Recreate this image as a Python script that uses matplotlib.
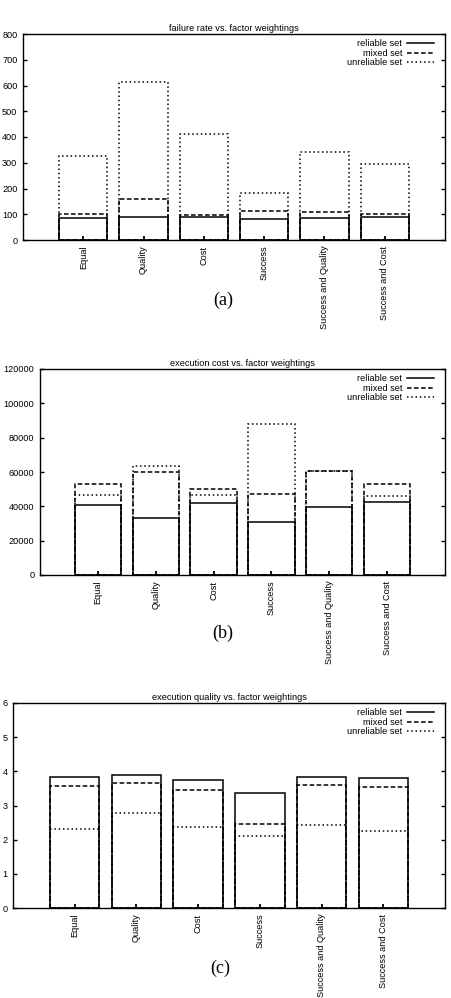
import matplotlib
matplotlib.use("Agg")
import matplotlib.pyplot as plt
from matplotlib.lines import Line2D
import numpy as np

categories = ["Equal", "Quality", "Cost", "Success", "Success and Quality", "Success and Cost"]
series_names = ["reliable set", "mixed set", "unreliable set"]

# (a) failure rate
fail_reliable = [84, 88, 91, 83, 86, 91]
fail_mixed = [102, 160, 97, 112, 109, 100]
fail_unreliable = [327, 615, 412, 184, 341, 296]

# (b) execution cost
cost_reliable = [40600, 33000, 41700, 31000, 39800, 42400]
cost_mixed = [53100, 60000, 50200, 46900, 60400, 53100]
cost_unreliable = [46800, 63700, 46600, 87900, 60600, 46300]

# (c) execution quality
qual_reliable = [3.84, 3.89, 3.76, 3.37, 3.83, 3.80]
qual_mixed = [3.58, 3.65, 3.44, 2.46, 3.59, 3.55]
qual_unreliable = [2.31, 2.78, 2.38, 2.10, 2.44, 2.24]

titles = ["failure rate vs. factor weightings",
          "execution cost vs. factor weightings",
          "execution quality vs. factor weightings"]
yticks_list = [list(range(0, 801, 100)),
               list(range(0, 120001, 20000)),
               list(range(0, 7, 1))]
captions = ["(a)", "(b)", "(c)"]

W, H = 452, 998
fig = plt.figure(figsize=(W / 100, H / 100), dpi=100)

# axes boxes in pixels: left, right, top, bottom
boxes = [(23, 445, 34, 240), (40, 445, 369, 575), (13, 445, 703, 908)]
caption_pos = [(223, 300), (223, 633), (220, 968)]

styles = {"reliable set": "-",
          "mixed set": (0, (3, 1.6)),
          "unreliable set": (0, (1, 1.8))}

data = [
    (fail_reliable, fail_mixed, fail_unreliable),
    (cost_reliable, cost_mixed, cost_unreliable),
    (qual_reliable, qual_mixed, qual_unreliable),
]

fs = 6.6
fam = ["Liberation Sans", "DejaVu Sans"]

for i, (box, vals) in enumerate(zip(boxes, data)):
    l, r, t, b = box
    ax = fig.add_axes([l / W, 1 - b / H, (r - l) / W, (b - t) / H])
    x = np.arange(1, len(categories) + 1)
    rel, mix, unr = vals
    for name, v in [("unreliable set", unr), ("mixed set", mix), ("reliable set", rel)]:
        ax.bar(x, v, width=0.8, fill=False, edgecolor="black",
               linestyle=styles[name], linewidth=1.1)
    ax.set_xlim(0, 7)
    yt = yticks_list[i]
    ax.set_ylim(yt[0], yt[-1])
    ax.set_yticks(yt)
    ax.set_yticklabels([str(v) for v in yt], fontsize=fs, family=fam)
    ax.set_xticks(x)
    ax.set_xticklabels(categories, rotation=90, fontsize=fs, family=fam,
                       ha="center", va="top")
    ax.tick_params(axis="y", direction="in", left=True, right=True,
                   length=3, width=1, pad=4)
    ax.tick_params(axis="x", direction="in", bottom=True, top=False,
                   length=3, width=1.3, pad=4)
    for s in ax.spines.values():
        s.set_linewidth(1.0)
    ax.set_title(titles[i], fontsize=fs, family=fam, pad=2.5)

    handles = [Line2D([0], [0], color="black", linestyle=styles[n], linewidth=1.1)
               for n in series_names]
    lx = 434 / W
    ly = 1 - (t + 5) / H
    ax.legend(handles, series_names, loc="upper right",
              bbox_to_anchor=(lx, ly), bbox_transform=fig.transFigure,
              frameon=False, markerfirst=False,
              handlelength=2.9, handletextpad=0.55, labelspacing=0.08,
              borderpad=0, borderaxespad=0,
              prop={"family": fam, "size": fs})

    cx, cy = caption_pos[i]
    fig.text(cx / W, 1 - cy / H, captions[i], ha="center", va="center",
             fontsize=13, family=["Liberation Serif", "DejaVu Serif"])

fig.savefig("out.png", dpi=100)
